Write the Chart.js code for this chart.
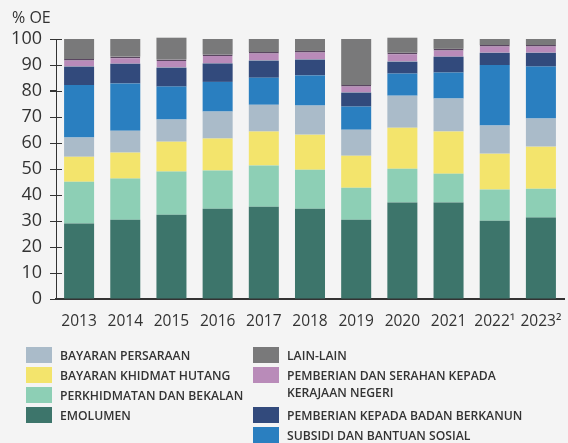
<!DOCTYPE html>
<html>
<head>
<meta charset="utf-8">
<script src="https://cdn.jsdelivr.net/npm/chart.js@4/dist/chart.umd.min.js"></script>
<style>
  html, body { margin: 0; padding: 0; background: #f4f4f4; }
  #wrap { position: relative; width: 568px; height: 443px; overflow: hidden; }
  #unit { position: absolute; left: 12px; top: 6px; font: 16px "Open Sans", sans-serif; color: #333; }
  .leg { position: absolute; font: 600 12.2px "Open Sans", sans-serif; color: #333; line-height: 17px; }
  .leg .sw { position: absolute; left: 0; top: 0; width: 26px; height: 16px; }
  .leg .tx { position: absolute; left: 34px; top: 0px; white-space: nowrap; }
</style>
</head>
<body>
<div id="wrap">
  <canvas id="chart" width="568" height="443"></canvas>
  <div id="unit">% OE</div>
  <div id="legend"></div>
</div>
<script>
// years along the x axis
const years = ['2013', '2014', '2015', '2016', '2017', '2018', '2019', '2020', '2021', '2022\u00b9', '2023\u00b2'];

// shares of operating expenditure (%), bottom of the stack first
const emolumen        = [29.0, 30.5, 32.4, 34.7, 35.5, 34.7, 30.5, 37.1, 37.1, 30.1, 31.3];
const perkhidmatan    = [16.1, 15.8, 16.6, 14.7, 15.8, 15.0, 12.3, 13.0, 11.1, 12.0, 11.1];
const khidmatHutang   = [ 9.6, 10.0, 11.5, 12.3, 13.1, 13.5, 12.3, 15.8, 16.2, 13.8, 16.2];
const persaraan       = [ 7.4,  8.4,  8.5, 10.4, 10.3, 11.2, 10.0, 12.3, 12.7, 10.8, 10.8];
const subsidi         = [20.2, 18.2, 12.7, 11.4, 10.4, 11.6,  8.9,  8.5, 10.0, 23.3, 20.0];
const badanBerkanun   = [ 7.1,  7.6,  7.3,  7.1,  6.6,  6.1,  5.4,  4.6,  6.1,  4.7,  5.3];
const kerajaanNegeri  = [ 2.9,  2.7,  3.1,  3.4,  3.3,  3.3,  2.9,  3.4,  3.0,  3.0,  3.0];
const lainLain        = [ 7.7,  6.8,  8.4,  6.0,  5.0,  4.6, 17.7,  5.8,  3.8,  2.3,  2.3];

const yTicks = [0, 10, 20, 30, 40, 50, 60, 70, 80, 90, 100];

const series = [
  { label: 'EMOLUMEN', data: emolumen, color: '#3d756b' },
  { label: 'PERKHIDMATAN DAN BEKALAN', data: perkhidmatan, color: '#8dcfb5' },
  { label: 'BAYARAN KHIDMAT HUTANG', data: khidmatHutang, color: '#f3e46c' },
  { label: 'BAYARAN PERSARAAN', data: persaraan, color: '#aabbc9' },
  { label: 'SUBSIDI DAN BANTUAN SOSIAL', data: subsidi, color: '#2a7fc0' },
  { label: 'PEMBERIAN KEPADA BADAN BERKANUN', data: badanBerkanun, color: '#324a7c' },
  { label: 'PEMBERIAN DAN SERAHAN KEPADA\nKERAJAAN NEGERI', data: kerajaanNegeri, color: '#b98bb9' },
  { label: 'LAIN-LAIN', data: lainLain, color: '#79797a' }
];

// draw the y tick marks so they cross the axis line
const crossTicks = {
  id: 'crossTicks',
  afterDraw(chart) {
    const y = chart.scales.y;
    const x0 = chart.chartArea.left;
    const ctx = chart.ctx;
    ctx.save();
    ctx.strokeStyle = '#333';
    ctx.lineWidth = 1;
    yTicks.forEach(v => {
      const py = Math.round(y.getPixelForValue(v)) + 0.5;
      ctx.beginPath();
      ctx.moveTo(x0 - 6, py);
      ctx.lineTo(x0 + 6, py);
      ctx.stroke();
    });
    ctx.restore();
  }
};

new Chart(document.getElementById('chart'), {
  type: 'bar',
  data: {
    labels: years,
    datasets: series.map(s => ({
      label: s.label,
      data: s.data,
      backgroundColor: s.color,
      borderWidth: s.data === kerajaanNegeri ? { top: 1.5 } : 0,
      borderColor: '#5a4660',
      borderSkipped: false,
      barPercentage: 0.65,
      categoryPercentage: 1.0,
      clip: false
    }))
  },
  options: {
    responsive: false,
    animation: false,
    layout: { padding: { left: 0, right: 4, top: 39, bottom: 114 } },
    plugins: { legend: { display: false }, tooltip: { enabled: false } },
    scales: {
      x: {
        stacked: true,
        grid: { display: false },
        border: { display: true, color: '#333', width: 2 },
        ticks: {
          color: '#333', padding: 5, maxRotation: 0, minRotation: 0, autoSkip: false,
          font: { family: 'Open Sans', size: 15.5 }
        },
        afterFit: s => { s.height = 30; }
      },
      y: {
        stacked: true,
        min: 0,
        max: 100,
        afterBuildTicks: s => { s.ticks = yTicks.map(v => ({ value: v })); },
        grid: { drawOnChartArea: false, drawTicks: true, tickLength: 6, color: '#333' },
        border: { display: true, color: '#333', width: 1 },
        ticks: { color: '#333', padding: 8, font: { family: 'Open Sans', size: 18 } },
        afterFit: s => { s.width = 56; }
      }
    }
  },
  plugins: [crossTicks]
});

// legend in two columns, built from the series list
const legendPlan = [
  { i: 3, left: 26, top: 347 },
  { i: 2, left: 26, top: 367 },
  { i: 1, left: 26, top: 387 },
  { i: 0, left: 26, top: 407 },
  { i: 7, left: 253, top: 347 },
  { i: 6, left: 253, top: 367 },
  { i: 5, left: 253, top: 407 },
  { i: 4, left: 253, top: 427 }
];
const legendEl = document.getElementById('legend');
legendPlan.forEach(p => {
  const s = series[p.i];
  const item = document.createElement('div');
  item.className = 'leg';
  item.style.left = p.left + 'px';
  item.style.top = p.top + 'px';
  item.innerHTML = '<div class="sw" style="background:' + s.color + '"></div>' +
    '<div class="tx">' + s.label.replace('\n', '<br>') + '</div>';
  legendEl.appendChild(item);
});
</script>
</body>
</html>
